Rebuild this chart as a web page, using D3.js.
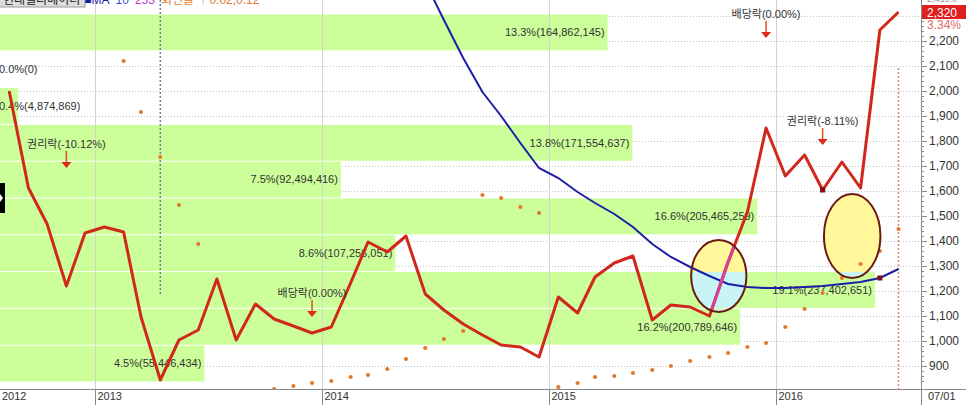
<!DOCTYPE html>
<html><head><meta charset="utf-8">
<script src="https://cdn.jsdelivr.net/npm/d3@7"></script>
<style>
body{margin:0;background:#fff;overflow:hidden}
svg{display:block;font-family:"Liberation Sans","Noto Sans CJK KR",sans-serif}
</style></head><body>
<svg id="c" width="966" height="405"></svg>
<script>
// ---------------- data ----------------
const firstMonth = [2012, 7];           // Aug 2012, monthly points
const price = [2000,1612,1468,1220,1432,1456,1436,1096,844,1004,1044,1248,1004,1148,1088,1060,
  1032,1056,1232,1396,1356,1420,1188,1124,1068,1024,984,976,936,1176,1112,1256,
  1312,1340,1084,1144,1136,1100,1316,1516,1852,1660,1744,1604,1716,1612,2244,2316];
const maLine = [null,null,null,null,null,null,null,null,null,null,null,null,null,null,null,null,
  null,null,null,null,null,null,2436,2284,2132,1996,1900,1792,1692,1652,1596,1552,
  1508,1456,1388,1336,1296,1260,1228,1216,1212,1212,1216,1220,1228,1236,1252,1288];
const turnDots = [null,null,null,null,null,null,2120,1916,1736,1544,1388,null,null,null,808,820,
  832,840,856,864,888,928,972,1008,1040,1584,1572,1536,1512,816,832,856,
  860,872,884,900,920,936,952,976,992,1056,1128,1192,1252,1308,1360,1448];
const bandEdges = [2308,2160.8,2013.6,1866.4,1719.2,1572,1424.8,1277.6,1130.4,983.2,836];
const bandPct = [13.3,0.0,0.4,13.8,7.5,16.6,8.6,19.1,16.2,4.5];
const bandVol = [164862145,0,4874869,171554637,92494416,205465259,107256051,237402651,200789646,55446434];
const priceTicks = [900,1000,1100,1200,1300,1400,1500,1600,1700,1800,1900,2000,2100,2200];
const gridTicks = [900,1000,1100,1200,1300,1400,1500,1600,1700,1800,1900,2000,2100,2200,2300];
const yearTicks = [2013,2014,2015,2016];
const events = [
  {i:3,  text:"권리락(-10.12%)", at:1692},
  {i:16, text:"배당락(0.00%)",   at:1096},
  {i:40, text:"배당락(0.00%)",   at:2212},
  {i:43, text:"권리락(-8.11%)",  at:1784}
];
const ellipses = [ {ci:37.5, cp:1260, ri:1.45, rp:144}, {ci:44.55, cp:1420, ri:1.48, rp:168} ];
const lastPrice = "2,320", lastPct = "3.34%", topHidden = "2,459.0";

// ---------------- scales ----------------
const plotR = 921, plotB = 389;
const svg = d3.select("#c");
const xT = d3.scaleTime().domain([new Date(2013,0,1), new Date(2014,0,1)]).range([95,322]);
const y = d3.scaleLinear().domain([900,2200]).range([366,41]);
const dateAt = i => new Date(firstMonth[0], firstMonth[1]+i, 16);
const xi = i => { const f = Math.floor(i), r = i - f; const a = xT(dateAt(f)), b = xT(dateAt(f+1)); return a + (b-a)*r; };
const bw = d3.scaleLinear().domain([0, d3.max(bandVol)]).range([0, 875]);

const defs = svg.append("defs");
defs.append("clipPath").attr("id","plot").append("rect").attr("x",0).attr("y",0).attr("width",plotR).attr("height",plotB);

const g = svg.append("g").attr("clip-path","url(#plot)");

// grid
g.selectAll("line.hg").data(gridTicks).join("line").attr("class","hg")
  .attr("x1",0).attr("x2",plotR).attr("y1",d=>Math.round(y(d))+0.5).attr("y2",d=>Math.round(y(d))+0.5)
  .attr("stroke","#c4c4c4").attr("stroke-dasharray","1,2");

// volume-profile bands
const bands = bandPct.map((p,k)=>({p, v:bandVol[k], top:bandEdges[k], bot:bandEdges[k+1]}));
g.selectAll("rect.band").data(bands).join("rect").attr("class","band")
  .attr("x",0).attr("y",d=>y(d.top)+0.5).attr("width",d=>bw(d.v))
  .attr("height",d=>y(d.bot)-y(d.top)-1).attr("fill","#ccff99");

// year vertical lines
g.selectAll("line.vg").data(yearTicks).join("line").attr("class","vg")
  .attr("x1",d=>Math.round(xT(new Date(d,0,1)))+0.5).attr("x2",d=>Math.round(xT(new Date(d,0,1)))+0.5)
  .attr("y1",0).attr("y2",plotB).attr("stroke","#d4d4d4");

// band labels
const fmt = d3.format(",");
g.selectAll("text.bl").data(bands).join("text").attr("class","bl")
  .attr("font-size",11).attr("fill","#333")
  .attr("y",d=>(y(d.top)+y(d.bot))/2).attr("dy","0.35em")
  .text(d=>`${d.p.toFixed(1)}%(${fmt(d.v)})`)
  .each(function(d){
    const w = this.getComputedTextLength(), bar = bw(d.v);
    if (w + 8 > bar) d3.select(this).attr("x",-1).attr("text-anchor","start");
    else d3.select(this).attr("x",bar-3).attr("text-anchor","end");
  });

// vertical dashed markers
g.append("line").attr("x1",xi(8)).attr("x2",xi(8)).attr("y1",0).attr("y2",y(1184))
  .attr("stroke","#6f7fa8").attr("stroke-width",1.5).attr("stroke-dasharray","2,2");
g.append("line").attr("x1",xi(47)).attr("x2",xi(47)).attr("y1",y(2092)).attr("y2",plotB)
  .attr("stroke","#d08a70").attr("stroke-width",1.5).attr("stroke-dasharray","2,2");

// ellipses fill (yellow, cyan where over green band)
ellipses.forEach((e,k)=>{
  const cx = xi(e.ci), cy = y(e.cp), rx = xi(e.ci+e.ri)-cx, ry = y(e.cp-e.rp)-cy;
  e.cx=cx; e.cy=cy; e.rx=rx; e.ry=ry;
  defs.append("clipPath").attr("id","el"+k).append("ellipse").attr("cx",cx).attr("cy",cy).attr("rx",rx).attr("ry",ry);
  g.append("ellipse").attr("cx",cx).attr("cy",cy).attr("rx",rx).attr("ry",ry).attr("fill","#fff799");
  g.append("g").attr("clip-path",`url(#el${k})`).selectAll("rect").data(bands).join("rect")
    .attr("x",0).attr("y",d=>y(d.top)+0.5).attr("width",d=>bw(d.v)).attr("height",d=>y(d.bot)-y(d.top)-1)
    .attr("fill","#c8f4f6");
});

// turnover dots
g.selectAll("circle.td").data(turnDots.map((v,i)=>({v,i})).filter(d=>d.v!=null)).join("circle").attr("class","td")
  .attr("cx",d=>xi(d.i)).attr("cy",d=>y(d.v)).attr("r",2.1).attr("fill","#e2792c");

// lines
const lineP = d3.line().x((d,i)=>xi(i)).y(d=>y(d));
const lineM = d3.line().defined(d=>d!=null).x((d,i)=>xi(i)).y(d=>y(d));
g.append("path").attr("d",lineM(maLine)).attr("fill","none").attr("stroke","#1d1ea6").attr("stroke-width",2);
g.append("path").attr("d",lineP(price)).attr("fill","none").attr("stroke","#d0281c").attr("stroke-width",3).attr("stroke-linejoin","round");
g.append("g").attr("clip-path","url(#el0)").append("path").attr("d",lineP(price))
  .attr("fill","none").attr("stroke","#d2409a").attr("stroke-width",3).attr("stroke-linejoin","round");

// ellipse outlines
ellipses.forEach(e=>{
  g.append("ellipse").attr("cx",e.cx).attr("cy",e.cy).attr("rx",e.rx).attr("ry",e.ry)
    .attr("fill","none").attr("stroke","#6a1b10").attr("stroke-width",2);
});

// square markers
g.append("rect").attr("x",xi(43)-2.5).attr("y",y(price[43])-2.5).attr("width",5).attr("height",5).attr("fill","#7a1010");
g.append("rect").attr("x",xi(46)-2.5).attr("y",y(maLine[46])-2.5).attr("width",5).attr("height",5).attr("fill","#7a1010");

// event annotations
events.forEach(ev=>{
  const cx = xi(ev.i), tip = y(ev.at);
  g.append("text").attr("x",cx).attr("y",tip-24).attr("dy","0.35em").attr("text-anchor","middle")
    .attr("font-size",11).attr("fill","#333").text(ev.text);
  g.append("line").attr("x1",cx).attr("x2",cx).attr("y1",tip-17).attr("y2",tip-5)
    .attr("stroke","#e0501e").attr("stroke-width",1.5);
  g.append("path").attr("d",`M${cx-5},${tip-6}L${cx+5},${tip-6}L${cx},${tip}Z`).attr("fill","#e02a1a");
});

// left black tab
svg.append("rect").attr("x",0).attr("y",183).attr("width",5).attr("height",30).attr("fill","#000");
svg.append("path").attr("d","M0,194L3,198L0,202Z").attr("fill","#fff");

// top-left legend (mostly cut off, as in the source)
svg.append("rect").attr("x",-1).attr("y",-9).attr("width",86).attr("height",16).attr("fill","#dcdcdc").attr("stroke","#999");
const leg = svg.append("text").attr("x",3).attr("y",4).attr("font-size",12);
leg.append("tspan").attr("fill","#222").text("현대엘리베이터");
leg.append("tspan").attr("fill","#1d1ea6").attr("dx",4).text("■MA");
leg.append("tspan").attr("fill","#3050d0").attr("dx",6).text("10");
leg.append("tspan").attr("fill","#c040d0").attr("dx",6).text("253");
leg.append("tspan").attr("fill","#e2792c").attr("dx",6).text("회전율");
leg.append("tspan").attr("fill","#e2792c").attr("dx",6).text("↑ 0.02,0.12");

// right axis
svg.append("line").attr("x1",plotR+0.5).attr("x2",plotR+0.5).attr("y1",0).attr("y2",405).attr("stroke","#8a8a8a");
const minor = svg.append("g").attr("transform",`translate(${plotR},0)`)
  .call(d3.axisRight(y).tickValues(d3.range(840,2320,20)).tickSize(3).tickFormat(""));
minor.select(".domain").remove();
minor.selectAll("line").attr("stroke","#8a8a8a");
const ra = svg.append("g").attr("transform",`translate(${plotR},0)`)
  .call(d3.axisRight(y).tickValues(priceTicks).tickSize(6).tickPadding(2).tickFormat(fmt));
ra.select(".domain").remove();
ra.selectAll("line").attr("stroke","#8a8a8a");
ra.selectAll("text").attr("font-size",12).attr("fill","#333").attr("font-family","Liberation Sans");

// last price box
svg.append("text").attr("x",927).attr("y",2).attr("font-size",9).attr("fill","#999").text(topHidden);
svg.append("rect").attr("x",922).attr("y",5).attr("width",44).attr("height",14).attr("fill","#e02020");
svg.append("text").attr("x",927).attr("y",16.5).attr("font-size",12).attr("fill","#fff").text(lastPrice);
svg.append("text").attr("x",927).attr("y",29).attr("font-size",12).attr("fill","#e06a6a").text(lastPct);

// bottom axis
svg.append("line").attr("x1",0).attr("x2",966).attr("y1",plotB+0.5).attr("y2",plotB+0.5).attr("stroke","#8a8a8a");
const ba = svg.append("g").attr("transform",`translate(0,${plotB})`)
  .call(d3.axisBottom(xT).tickValues(yearTicks.map(d=>new Date(d,0,1))).tickSize(16).tickFormat(d3.timeFormat("%Y")));
ba.select(".domain").remove();
ba.selectAll("line").attr("stroke","#8a8a8a");
ba.selectAll("text").attr("x",2).attr("y",3).attr("dy","0.71em").attr("text-anchor","start")
  .attr("font-size",11).attr("fill","#333").attr("font-family","Liberation Sans");
svg.append("text").attr("x",2).attr("y",plotB+3).attr("dy","0.71em").attr("font-size",11).attr("fill","#333").text("2012");
svg.append("text").attr("x",928).attr("y",plotB+3).attr("dy","0.71em").attr("font-size",11).attr("fill","#333").text("07/01");
</script>
</body></html>
